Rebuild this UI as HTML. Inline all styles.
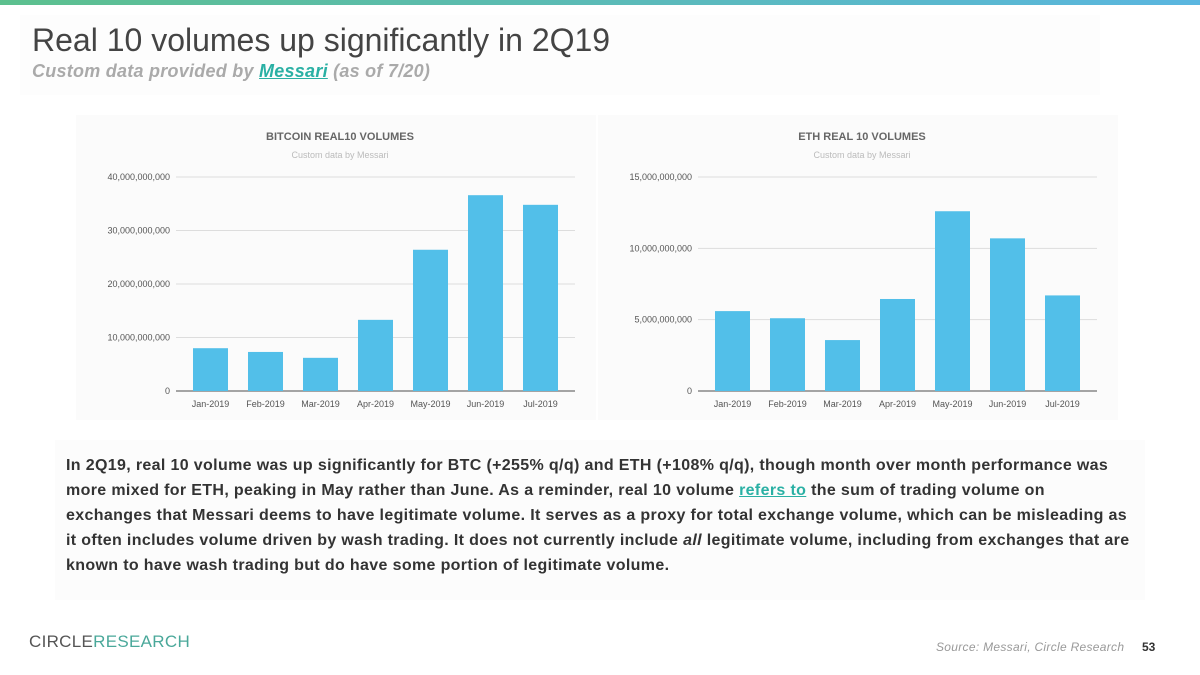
<!DOCTYPE html>
<html><head><meta charset="utf-8"><style>
body{margin:0;width:1200px;height:675px;background:#fff;font-family:"Liberation Sans",sans-serif;position:relative;overflow:hidden}
.topbar{position:absolute;left:0;top:0;width:1200px;height:5px;background:linear-gradient(90deg,#5cc08e,#5ab6e0)}
.panel{position:absolute;background:#fdfdfd}
h1{position:absolute;left:32px;top:22px;margin:0;font-size:32px;font-weight:normal;color:#444;letter-spacing:0px}
.sub{position:absolute;left:32px;top:61px;font-size:18px;font-style:italic;font-weight:bold;color:#aaa;letter-spacing:0.25px}
.sub a{color:#2ab0a4;text-decoration:underline}
.body{position:absolute;left:66px;top:453px;width:1100px;font-size:16px;font-weight:bold;color:#333;line-height:25px;letter-spacing:0.35px;white-space:nowrap}
.body a{color:#2ab0a4;text-decoration:underline}
.logo{position:absolute;left:29px;top:632px;font-size:17px;color:#555;letter-spacing:0.3px}
.logo span{color:#4aa89a}
.src{position:absolute;left:936px;top:640px;font-size:12px;font-style:italic;color:#999;letter-spacing:0.3px}
.pg{position:absolute;left:1142px;top:640px;font-size:12px;font-weight:bold;color:#333}
</style></head><body>
<div class="topbar"></div>
<div class="panel" style="left:20px;top:15px;width:1080px;height:80px"></div>
<h1>Real 10 volumes up significantly in 2Q19</h1>
<div class="sub">Custom data provided by <a>Messari</a> (as of 7/20)</div>
<svg id="charts" width="1200" height="675" style="position:absolute;left:0;top:0"></svg>
<div class="panel" style="left:55px;top:440px;width:1090px;height:160px;background:#fcfcfc"></div>
<div class="body">In 2Q19, real 10 volume was up significantly for BTC (+255% q/q) and ETH (+108% q/q), though month over month performance was<br>more mixed for ETH, peaking in May rather than June. As a reminder, real 10 volume <a>refers to</a> the sum of trading volume on<br>exchanges that Messari deems to have legitimate volume. It serves as a proxy for total exchange volume, which can be misleading as<br>it often includes volume driven by wash trading. It does not currently include <i>all</i> legitimate volume, including from exchanges that are<br>known to have wash trading but do have some portion of legitimate volume.</div>
<div class="logo">CIRCLE<span>RESEARCH</span></div>
<div class="src">Source: Messari, Circle Research</div>
<div class="pg">53</div>
<script>
const categories=["Jan-2019","Feb-2019","Mar-2019","Apr-2019","May-2019","Jun-2019","Jul-2019"];
const btcValues=[8.0e9,7.3e9,6.2e9,13.3e9,26.4e9,36.6e9,34.8e9];
const ethValues=[5.6e9,5.1e9,3.57e9,6.45e9,12.6e9,10.7e9,6.7e9];
const btcTicks=[0,10e9,20e9,30e9,40e9];
const ethTicks=[0,5e9,10e9,15e9];
const svg=document.getElementById('charts');
const NS='http://www.w3.org/2000/svg';
function mk(t,a,txt){const e=document.createElementNS(NS,t);for(const k in a)e.setAttribute(k,a[k]);if(txt!==undefined)e.textContent=txt;svg.appendChild(e);return e;}
function chart(px,title,vals,ticks,key){
  const bg=mk('rect',{x:px-100,y:115,width:520,height:305,fill:'#fbfbfb'});
  
  const gx0=px,gx1=px+399,y0=391,y1=177,max=ticks[ticks.length-1];
  const ys=v=>y0-(v/max)*(y0-y1);
  const bx0=px+7,band=(392-7)/categories.length;
  const xs=i=>bx0+band*(i+0.5);
  const t=mk('text',{x:px+164,y:140,'text-anchor':'middle','font-size':11,'font-weight':'bold',fill:'#666'},title);
  
  const s=mk('text',{x:px+164,y:158,'text-anchor':'middle','font-size':9,fill:'#bbb'},'Custom data by Messari');
  
  ticks.forEach(v=>{
    const g=mk('line',{x1:gx0,x2:gx1,y1:ys(v),y2:ys(v),stroke:v===0?'#888':'#ddd','stroke-width':v===0?1.5:1});
    
    const l=mk('text',{x:gx0-6,y:ys(v)+3,'text-anchor':'end','font-size':9,fill:'#555'},v.toLocaleString('en-US'));
    
  });
  vals.forEach((v,i)=>{
    const b=mk('rect',{x:xs(i)-17.5,y:ys(v),width:35,height:y0-ys(v),fill:'#52bfe9'});
    
    const l=mk('text',{x:xs(i),y:407,'text-anchor':'middle','font-size':9,fill:'#555'},categories[i]);
    
  });
}
chart(176,'BITCOIN REAL10 VOLUMES',btcValues,btcTicks,'btc');
chart(698,'ETH REAL 10 VOLUMES',ethValues,ethTicks,'eth');
</script>
</body></html>
